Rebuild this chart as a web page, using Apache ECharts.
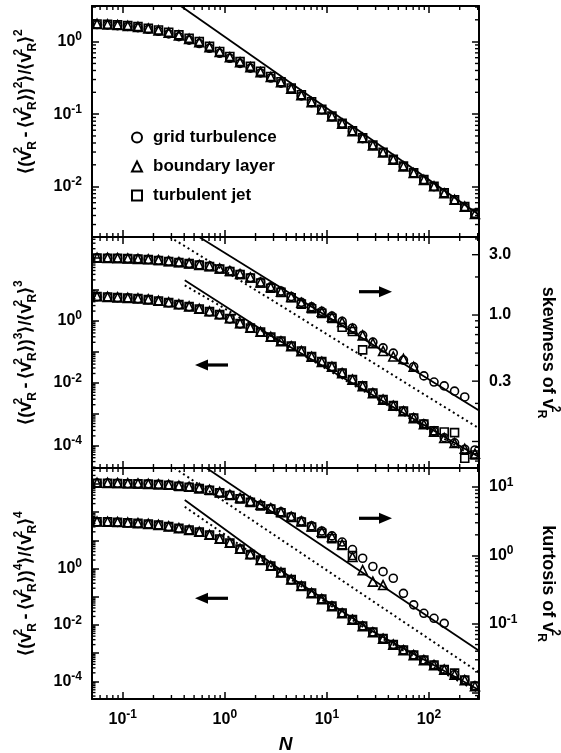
<!DOCTYPE html>
<html>
<head>
<meta charset="utf-8">
<script src="https://cdn.jsdelivr.net/npm/echarts@6/dist/echarts.min.js"></script>
<style>
html, body { margin: 0; padding: 0; background: #fff; }
#main { width: 561px; height: 753px; }
</style>
</head>
<body>
<div id="main"></div>
<script>
// N values of the plotted points (log spaced)
var N = [0.056, 0.071, 0.089, 0.112, 0.141, 0.178, 0.224, 0.282, 0.355, 0.447,
         0.562, 0.708, 0.891, 1.12, 1.41, 1.78, 2.24, 2.82, 3.55, 4.47,
         5.62, 7.08, 8.91, 11.2, 14.1, 17.8, 22.4, 28.2, 35.5, 44.7,
         56.2, 70.8, 89.1, 112, 141, 178, 224, 282];

// top panel: normalised variance
var varGrid = [1.72, 1.70, 1.66, 1.62, 1.56, 1.48, 1.39, 1.28, 1.17, 1.05, 0.94, 0.81, 0.69, 0.59, 0.50, 0.43, 0.37, 0.315, 0.268, 0.22,
               0.178, 0.144, 0.115, 0.092, 0.074, 0.058, 0.046, 0.037, 0.0295, 0.0235, 0.019, 0.0153, 0.0123, 0.0100, 0.0081, 0.0065, 0.0052, 0.0042];
var varBound = [1.76, 1.73, 1.70, 1.65, 1.60, 1.52, 1.43, 1.33, 1.22, 1.09, 0.98, 0.84, 0.72, 0.61, 0.52, 0.445, 0.38, 0.325, 0.275, 0.225,
                0.182, 0.146, 0.116, 0.093, 0.074, 0.058, 0.047, 0.037, 0.0295, 0.0236, 0.019, 0.0154, 0.0124, 0.0101, 0.0081, 0.0066, 0.0053, 0.0042];
var varJet = [1.75, 1.74, 1.70, 1.66, 1.61, 1.53, 1.45, 1.35, 1.24, 1.11, 1.00, 0.86, 0.73, 0.625, 0.53, 0.455, 0.39, 0.33, 0.28, 0.229,
              0.185, 0.148, 0.117, 0.094, 0.075, 0.059, 0.047, 0.0375, 0.0298, 0.0238, 0.0192, 0.0155, 0.0125, 0.0101, 0.0082, 0.0066, 0.0053, 0.0043];
var lineVarN = [0.37, 309];
var lineVar = [3.1, 0.0041];

// middle panel: skewness (right axis) and third moment (left axis)
var skewGrid = [2.83, 2.82, 2.81, 2.80, 2.78, 2.75, 2.71, 2.66, 2.61, 2.55, 2.49, 2.43, 2.33, 2.23, 2.11, 1.98, 1.82, 1.67, 1.55, 1.40,
                1.26, 1.16, 1.07, 0.98, 0.89, 0.79, 0.69, 0.61, 0.55, 0.50, 0.44, 0.39, 0.33, 0.295, 0.275, 0.25, 0.225];
var skewBound = [2.84, 2.83, 2.82, 2.80, 2.78, 2.76, 2.72, 2.67, 2.62, 2.56, 2.49, 2.43, 2.33, 2.23, 2.11, 1.98, 1.81, 1.66, 1.53, 1.39,
                 1.25, 1.15, 1.06, 0.97, 0.88, 0.78, 0.69, 0.60, 0.52, 0.47, 0.45, 0.39];
var skewJet = [2.82, 2.81, 2.81, 2.79, 2.77, 2.75, 2.70, 2.65, 2.60, 2.55, 2.48, 2.42, 2.31, 2.21, 2.09, 1.96, 1.79, 1.63, 1.51, 1.37,
               1.22, 1.12, 1.03, 0.94, 0.80, 0.74, 0.53];
var m3Grid = [5.80, 5.60, 5.40, 5.20, 5.00, 4.65, 4.15, 3.70, 3.20, 2.76, 2.30, 1.90, 1.52, 1.13, 0.78, 0.565, 0.42, 0.29, 0.215, 0.15,
              0.103, 0.069, 0.048, 0.033, 0.0205, 0.0128, 0.0079, 0.0047, 0.0029, 0.00187, 0.00124, 0.00076, 0.00049, 0.00028, 0.000175, 0.00012, 0.000075, 0.0000707];
var m3Bound = [5.95, 5.72, 5.50, 5.30, 5.10, 4.75, 4.28, 3.82, 3.30, 2.84, 2.37, 1.97, 1.58, 1.18, 0.82, 0.59, 0.435, 0.30, 0.215, 0.15,
               0.104, 0.069, 0.047, 0.033, 0.0205, 0.0127, 0.0078, 0.0047, 0.0029, 0.00185, 0.00123, 0.00074, 0.00047, 0.00027, 0.000172, 0.000118, 0.0000775, 0.000054];
var m3Jet = [5.88, 5.66, 5.46, 5.26, 5.07, 4.71, 4.22, 3.78, 3.26, 2.81, 2.34, 1.94, 1.56, 1.16, 0.80, 0.575, 0.428, 0.296, 0.22, 0.152,
             0.105, 0.070, 0.0485, 0.0336, 0.0208, 0.0129, 0.0080, 0.00475, 0.00294, 0.00189, 0.00126, 0.00075, 0.00048, 0.00029, 0.000267, 0.000254, 0.0000383, 0.0000489];
var skewSolidN = [0.561, 309];
var skewSolid = [4.14, 0.176];
var skewDotN = [0.29, 309];
var skewDot = [4.14, 0.127];
var m3SolidN = [0.405, 2.97, 309];
var m3Solid = [19.4, 0.296, 0.000042];
var m3DotN = [0.405, 0.829, 309];
var m3Dot = [13.4, 3.45, 0.000035];

// bottom panel: kurtosis (right axis) and fourth moment (left axis)
var kurtGrid = [11.4, 11.4, 11.3, 11.25, 11.2, 11.1, 10.9, 10.7, 10.3, 10.0, 9.57, 9.04, 8.31, 7.64, 6.84, 6.1, 5.46, 4.89, 4.32, 3.71,
                3.19, 2.70, 2.28, 1.93, 1.57, 1.22, 0.91, 0.69, 0.58, 0.465, 0.28, 0.19, 0.143, 0.121, 0.102];
var kurtBound = [11.5, 11.45, 11.4, 11.3, 11.25, 11.1, 10.95, 10.75, 10.4, 10.05, 9.6, 9.1, 8.4, 7.7, 6.9, 6.15, 5.5, 4.9, 4.3, 3.68,
                 3.15, 2.65, 2.22, 1.86, 1.45, 0.95, 0.61, 0.415, 0.37];
var kurtJet = [11.3, 11.3, 11.2, 11.15, 11.1, 11.0, 10.8, 10.6, 10.2, 9.9, 9.45, 8.9, 8.2, 7.5, 6.7, 5.95, 5.3, 4.75, 4.2, 3.6,
               3.08, 2.6, 2.1, 1.75, 1.4, 1.0];
var m4Grid = [45.0, 44.6, 43.3, 41.5, 39.6, 37.3, 34.4, 30.5, 26.3, 22.8, 19.4, 15.1, 10.9, 7.9, 4.85, 3.1, 1.98, 1.22, 0.71, 0.40,
              0.236, 0.134, 0.082, 0.0465, 0.0262, 0.0154, 0.0091, 0.0056, 0.0033, 0.002, 0.00128, 0.00085, 0.000565, 0.000376, 0.00026, 0.000174, 0.000112, 0.000069];
var m4Bound = [46.5, 45.8, 44.5, 42.6, 40.6, 38.3, 35.3, 31.3, 27.0, 23.5, 20.0, 15.7, 11.3, 8.2, 5.0, 3.2, 2.03, 1.25, 0.73, 0.41,
               0.24, 0.134, 0.082, 0.046, 0.026, 0.0153, 0.009, 0.0055, 0.00325, 0.002, 0.00127, 0.00085, 0.000565, 0.000375, 0.00026, 0.000172, 0.00011, 0.000067];
var m4Jet = [45.7, 45.3, 43.9, 42.1, 40.1, 37.8, 34.9, 30.9, 26.7, 23.2, 19.7, 15.4, 11.1, 8.02, 4.91, 3.14, 2.0, 1.23, 0.72, 0.407,
             0.239, 0.135, 0.0828, 0.0468, 0.0264, 0.0155, 0.00914, 0.0056, 0.0033, 0.00202, 0.00129, 0.000857, 0.000569, 0.000379, 0.000262, 0.000195, 0.000111, 0.0000681];
var kurtSolidN = [0.661, 309];
var kurtSolid = [18.9, 0.0405];
var kurtDotN = [0.321, 309];
var kurtDot = [18.9, 0.0196];
var m4SolidN = [0.405, 4.34, 28.2, 309];
var m4Solid = [269, 0.512, 0.0058, 0.000049];
var m4DotN = [0.405, 2.2, 28.2, 309];
var m4Dot = [155, 2.2, 0.005, 0.00004];

// ticks / labels of the skewness axis
var skewTickLabels = [3, 1, 0.3];
var skewMajorTicks = [3, 1, 0.3, 0.1];
var skewMinorTicks = [4, 2, 0.9, 0.8, 0.7, 0.6, 0.5, 0.4, 0.2, 0.09, 0.08, 0.07];

var FONT = '"Liberation Sans", Arial, sans-serif';
var X_MIN = 0.05, X_MAX = 309;
var XR = [X_MIN, X_MAX];
var Y1 = [0.00202, 3.1];
var Y2L = [1.87e-5, 474], Y2R = [0.0617, 4.14];
var Y3L = [2.36e-5, 3664], Y3R = [0.00803, 18.9];

var LABEL_RICH = {
    b: { fontFamily: FONT, fontSize: 16, fontWeight: 'bold', color: '#000', lineHeight: 21 },
    s: { fontFamily: FONT, fontSize: 12, fontWeight: 'bold', color: '#000', lineHeight: 12, verticalAlign: 'top' }
};
var NAME_RICH = {
    t: { fontFamily: FONT, fontSize: 18, fontWeight: 'bold', color: '#000', lineHeight: 26 },
    p: { fontFamily: FONT, fontSize: 12, fontWeight: 'bold', color: '#000', lineHeight: 12, verticalAlign: 'top', width: 1 },
    r: { fontFamily: FONT, fontSize: 12, fontWeight: 'bold', color: '#000', lineHeight: 12, verticalAlign: 'bottom' },
    q: { fontFamily: FONT, fontSize: 12, fontWeight: 'bold', color: '#000', lineHeight: 12, verticalAlign: 'top' }
};

function powLabel(lo, hi, evenOnly) {
    return function (v) {
        var e = Math.log10(v), r = Math.round(e);
        if (Math.abs(e - r) > 1e-6 || r < lo || r > hi) return '';
        if (evenOnly && r % 2 !== 0) return '';
        return '{b|10}{s|' + r + '}';
    };
}

function momentName(p) {
    return '{t|\u27e8(v}{p|2}{r|R}{t|\u2009-\u2009\u27e8v}{p|2}{r|R}{t|\u27e9)}{q|' + p + '}' +
           '{t|\u27e9/\u27e8v}{p|2}{r|R}{t|\u27e9}{q|' + p + '}';
}

function pts(xs, ys) {
    return ys.map(function (y, i) { return [xs[i], y]; });
}

function logAxis(gi, pos, range, labels, extra) {
    var ax = {
        type: 'log', logBase: 10, gridIndex: gi, position: pos,
        min: range[0], max: range[1],
        axisLine: { show: true, onZero: false, lineStyle: { color: '#000', width: 2 } },
        axisTick: { show: true, inside: true, length: 7, lineStyle: { color: '#000', width: 1.5 } },
        axisLabel: labels ? { show: true, margin: 10, formatter: labels, rich: LABEL_RICH, color: '#000' } : { show: false },
        splitLine: { show: false },
        minorTick: { show: false }
    };
    for (var k in extra) ax[k] = extra[k];
    return ax;
}

function marks(name, symbol, size, xi, yi, ys) {
    return {
        name: name, type: 'scatter', xAxisIndex: xi, yAxisIndex: yi,
        symbol: symbol, symbolSize: size, silent: true, z: 3,
        data: pts(N, ys),
        itemStyle: { color: 'rgba(255,255,255,0)', borderColor: '#000', borderWidth: 1.6, opacity: 1 }
    };
}

function curve(xi, yi, xs, ys, dotted) {
    return {
        type: 'line', xAxisIndex: xi, yAxisIndex: yi, data: pts(xs, ys),
        showSymbol: false, symbol: 'none', clip: true, silent: true, z: 2,
        lineStyle: { color: '#000', width: dotted ? 2 : 1.8, type: dotted ? [2, 3.2] : 'solid' }
    };
}

function tickLine(x1, y1, x2, y2) {
    return { type: 'line', shape: { x1: x1, y1: y1, x2: x2, y2: y2 }, style: { stroke: '#000', lineWidth: 1.4 } };
}

// extra tick marks drawn through the axes' own scales
function ticks(xi, yi, dir, vals, len, yr, sides) {
    return {
        type: 'custom', xAxisIndex: xi, yAxisIndex: yi, silent: true, clip: false, z: 4,
        data: vals.map(function (v) { return dir === 'x' ? [v, yr[0]] : [X_MIN, v]; }),
        renderItem: function (params, api) {
            var kids = [], a, b;
            if (dir === 'x') {
                var vx = api.value(0);
                a = api.coord([vx, yr[0]]);
                b = api.coord([vx, yr[1]]);
                kids.push(tickLine(a[0], a[1], a[0], a[1] - len));
                kids.push(tickLine(b[0], b[1], b[0], b[1] + len));
            } else {
                var vy = api.value(1);
                a = api.coord([X_MIN, vy]);
                b = api.coord([X_MAX, vy]);
                if (sides !== 'right') kids.push(tickLine(a[0], a[1], a[0] + len, a[1]));
                if (sides !== 'left') kids.push(tickLine(b[0], b[1], b[0] - len, b[1]));
            }
            return { type: 'group', children: kids };
        }
    };
}

function minors(r) {
    var out = [];
    for (var e = -6; e <= 4; e++) {
        for (var m = 2; m <= 9; m++) {
            var v = m * Math.pow(10, e);
            if (v > r[0] && v < r[1]) out.push(v);
        }
    }
    return out;
}

function arrow(tipX, y, dir) {
    var s = dir === 'left' ? 1 : -1;
    return {
        type: 'group', silent: true, children: [
            { type: 'polygon', shape: { points: [[tipX, y], [tipX + s * 13, y - 5.5], [tipX + s * 13, y + 5.5]] }, style: { fill: '#000' } },
            { type: 'rect', shape: { x: dir === 'left' ? tipX + 10 : tipX - 33, y: y - 1.6, width: 23, height: 3.2 }, style: { fill: '#000' } }
        ]
    };
}

var grids = [
    { left: 92, right: 82, top: 6, height: 231, outerBoundsMode: 'none', containLabel: false },
    { left: 92, right: 82, top: 237, height: 231, outerBoundsMode: 'none', containLabel: false },
    { left: 92, right: 82, top: 468, height: 231, outerBoundsMode: 'none', containLabel: false }
];

var xAxes = [
    logAxis(0, 'bottom', XR, null),
    logAxis(0, 'top', XR, null),
    logAxis(1, 'bottom', XR, null),
    logAxis(1, 'top', XR, null),
    logAxis(2, 'bottom', XR, powLabel(-9, 9, false), {
        name: 'N', nameLocation: 'middle', nameGap: 36,
        nameTextStyle: { fontFamily: FONT, fontSize: 19, fontWeight: 'bold', fontStyle: 'italic', color: '#000' }
    }),
    logAxis(2, 'top', XR, null)
];

var yAxes = [
    logAxis(0, 'left', Y1, powLabel(-9, 9, false), {
        name: momentName(2), nameLocation: 'middle', nameGap: 53, nameRotate: 90,
        nameTextStyle: { rich: NAME_RICH, padding: [0, 0, 0, 40] }
    }),
    logAxis(0, 'right', Y1, null),
    logAxis(1, 'left', Y2L, powLabel(-4, 0, true), {
        name: momentName(3), nameLocation: 'middle', nameGap: 53, nameRotate: 90,
        nameTextStyle: { rich: NAME_RICH }
    }),
    logAxis(1, 'right', Y2R, null, {
        axisTick: { show: false },
        name: '{t|skewness of v}{p|2}{r|R}', nameLocation: 'middle', nameGap: 56, nameRotate: -90,
        nameTextStyle: { rich: NAME_RICH }
    }),
    logAxis(2, 'left', Y3L, powLabel(-4, 0, true), {
        name: momentName(4), nameLocation: 'middle', nameGap: 53, nameRotate: 90,
        nameTextStyle: { rich: NAME_RICH }
    }),
    logAxis(2, 'right', Y3R, powLabel(-1, 1, false), {
        name: '{t|kurtosis of v}{p|2}{r|R}', nameLocation: 'middle', nameGap: 56, nameRotate: -90,
        nameTextStyle: { rich: NAME_RICH }
    })
];

var series = [
    // top panel
    curve(0, 0, lineVarN, lineVar, false),
    marks('grid turbulence', 'circle', 8, 0, 0, varGrid),
    marks('boundary layer', 'triangle', 9, 0, 0, varBound),
    marks('turbulent jet', 'rect', 8, 0, 0, varJet),
    // middle panel
    curve(2, 3, skewSolidN, skewSolid, false),
    curve(2, 3, skewDotN, skewDot, true),
    curve(2, 2, m3SolidN, m3Solid, false),
    curve(2, 2, m3DotN, m3Dot, true),
    marks('grid turbulence', 'circle', 8, 2, 3, skewGrid),
    marks('boundary layer', 'triangle', 9, 2, 3, skewBound),
    marks('turbulent jet', 'rect', 8, 2, 3, skewJet),
    marks('grid turbulence', 'circle', 8, 2, 2, m3Grid),
    marks('boundary layer', 'triangle', 9, 2, 2, m3Bound),
    marks('turbulent jet', 'rect', 8, 2, 2, m3Jet),
    // bottom panel
    curve(4, 5, kurtSolidN, kurtSolid, false),
    curve(4, 5, kurtDotN, kurtDot, true),
    curve(4, 4, m4SolidN, m4Solid, false),
    curve(4, 4, m4DotN, m4Dot, true),
    marks('grid turbulence', 'circle', 8, 4, 5, kurtGrid),
    marks('boundary layer', 'triangle', 9, 4, 5, kurtBound),
    marks('turbulent jet', 'rect', 8, 4, 5, kurtJet),
    marks('grid turbulence', 'circle', 8, 4, 4, m4Grid),
    marks('boundary layer', 'triangle', 9, 4, 4, m4Bound),
    marks('turbulent jet', 'rect', 8, 4, 4, m4Jet),
    // minor ticks
    ticks(0, 0, 'x', minors(XR), 4, Y1),
    ticks(2, 2, 'x', minors(XR), 4, Y2L),
    ticks(4, 4, 'x', minors(XR), 4, Y3L),
    ticks(0, 0, 'y', minors(Y1), 4, Y1, 'both'),
    ticks(2, 2, 'y', minors(Y2L), 3.5, Y2L, 'left'),
    ticks(2, 3, 'y', skewMajorTicks, 7, Y2R, 'right'),
    ticks(2, 3, 'y', skewMinorTicks, 4, Y2R, 'right'),
    ticks(4, 4, 'y', minors(Y3L), 3.5, Y3L, 'left'),
    ticks(4, 5, 'y', minors(Y3R), 4, Y3R, 'right'),
    {
        type: 'custom', xAxisIndex: 2, yAxisIndex: 3, silent: true, clip: false, z: 4,
        data: skewTickLabels.map(function (v) { return [X_MAX, v]; }),
        renderItem: function (params, api) {
            var v = api.value(1);
            var p = api.coord([X_MAX, v]);
            return {
                type: 'text', x: p[0] + 10, y: p[1],
                style: { text: v.toFixed(1), font: 'bold 16px ' + FONT, fill: '#000', align: 'left', verticalAlign: 'middle' }
            };
        }
    }
];

var myChart = echarts.init(document.getElementById('main'), null, { renderer: 'canvas' });
myChart.setOption({
    animation: false,
    backgroundColor: '#fff',
    grid: grids,
    xAxis: xAxes,
    yAxis: yAxes,
    legend: {
        data: ['grid turbulence', 'boundary layer', 'turbulent jet'],
        orient: 'vertical', left: 126, top: 124,
        itemWidth: 10, itemHeight: 10, itemGap: 12, selectedMode: false,
        textStyle: { fontFamily: FONT, fontSize: 17, fontWeight: 'bold', color: '#000', lineHeight: 17, padding: [0, 0, 0, 6] }
    },
    graphic: [
        arrow(195, 365, 'left'),
        arrow(392, 291.7, 'right'),
        arrow(195, 598.3, 'left'),
        arrow(392, 518.3, 'right')
    ],
    series: series
});
</script>
</body>
</html>
